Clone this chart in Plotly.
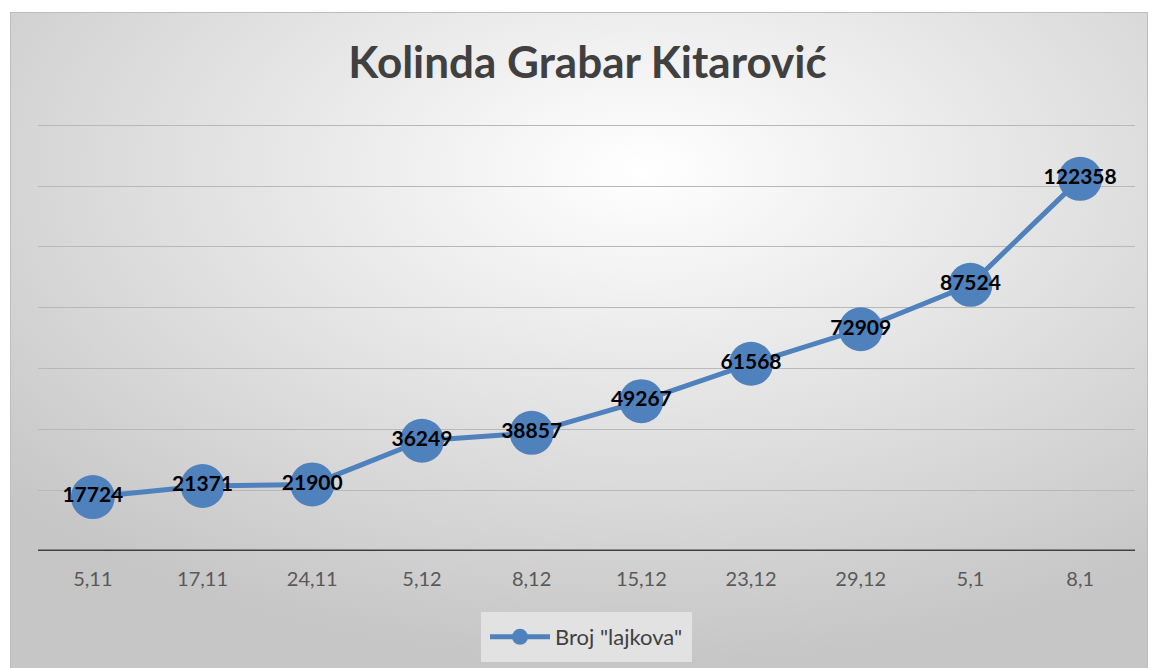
import base64
import plotly.graph_objects as go

categories = ["5,11", "17,11", "24,11", "5,12", "8,12", "15,12", "23,12", "29,12", "5,1", "8,1"]
likes = [17724, 21371, 21900, 36249, 38857, 49267, 61568, 72909, 87524, 122358]
series_name = 'Broj "lajkova"'
title_text = "Kolinda Grabar Kitarović"

W, H = 1152, 668
L, R, T, B = 38, 17, 124, 117
pw, ph = W - L - R, H - T - B

svg = f'''<svg xmlns="http://www.w3.org/2000/svg" width="{W}" height="{H}" viewBox="0 0 {W} {H}">
<defs><radialGradient id="g" cx="{640/W}" cy="{160/H}" r="0.75" gradientUnits="objectBoundingBox">
<stop offset="0" stop-color="#ffffff"/><stop offset="1" stop-color="#c6c6c6"/></radialGradient></defs>
<rect x="0" y="0" width="{W}" height="{H}" fill="#ffffff"/>
<rect x="10.5" y="12.5" width="{W-15}" height="{H-12}" fill="url(#g)" stroke="#bdbdbd" stroke-width="1"/>
</svg>'''
src = "data:image/svg+xml;base64," + base64.b64encode(svg.encode()).decode()

fig = go.Figure()
fig.add_trace(go.Scatter(
    x=categories, y=likes, mode="lines+markers+text", name=series_name,
    line=dict(color="#4f81bd", width=5),
    marker=dict(color="#4f81bd", size=44),
    text=[str(v) for v in likes], textposition="middle center",
    textfont=dict(family="Lato", size=21, color="#000000", weight="bold"),
))

fig.update_layout(
    width=W, height=H,
    margin=dict(l=L, r=R, t=T, b=B, autoexpand=False),
    paper_bgcolor="#ffffff", plot_bgcolor="rgba(0,0,0,0)",
    images=[dict(source=src, xref="paper", yref="paper",
                 x=-L / pw, y=1 + T / ph, sizex=W / pw, sizey=H / ph,
                 xanchor="left", yanchor="top", sizing="stretch", layer="below")],
    title=dict(text=title_text, x=0.51, xanchor="center", y=1 - 63 / H, yanchor="middle",
               font=dict(family="Lato", size=44, color="#404040", weight="bold")),
    xaxis=dict(type="category", range=[-0.5, 9.5], showgrid=False, zeroline=False,
               showline=False, ticks="", tickfont=dict(family="Lato", size=20, color="#595959"),
               ticklabelstandoff=14, automargin=False),
    yaxis=dict(range=[0, 140400], dtick=20000, showticklabels=False, zeroline=False,
               showgrid=True, gridcolor="#b8b8b8", gridwidth=1, showline=False, fixedrange=True,
               automargin=False),
    legend=dict(orientation="h", x=0.5, xanchor="center", y=(551 - 637) / ph, yanchor="middle",
                bgcolor="#e2e2e2", font=dict(family="Lato", size=22, color="#404040"),
                itemwidth=60, borderwidth=4, bordercolor="#e2e2e2"),
    showlegend=True,
)
fig.add_shape(type="line", xref="paper", yref="y", x0=0, x1=1, y0=0, y1=0,
              line=dict(color="#404040", width=3), layer="below")

fig.write_html("out.html", config={"displayModeBar": False},
               post_script="document.body.style.margin='0';document.body.style.overflow='hidden';")
